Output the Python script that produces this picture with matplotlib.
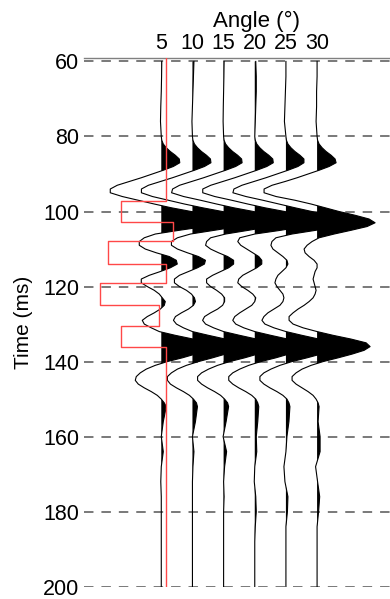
import numpy as np
import matplotlib
matplotlib.use("Agg")
from matplotlib import pyplot as plt

plt.rcParams['font.family'] = ['Liberation Sans', 'DejaVu Sans']

# incidence angles (one wiggle trace each)
angles = [5, 10, 15, 20, 25, 30]

# time samples (ms): coarse above/below the reflections, 1 ms through them
times = np.concatenate([np.arange(60, 80, 4), np.arange(80, 153, 1), np.arange(156, 201, 4)])

# trace amplitudes (same order as times)
trace_05 = [0.5, 0.3, 0, -0.5, -0.8,
            0, 0.5, 2, 5, 9, 14, 18, 18.5, 12, 2,
            -9, -20, -32, -44, -51, -51, -39, -23, -7, 10,
            30, 47, 56, 57, 44, 18, -6, -17, -22, -22,
            -16, -5, 8, 15, 16, 9, -1, -12, -20, -20,
            -14, -7, -2, 1, 4, 3, -1, -7, -14, -19,
            -17, -10, -2, 14, 32, 47, 52, 46, 34, 21,
            6, -6, -15, -21, -25, -26, -23, -17, -10, -4,
            0, 3, 5,
            2, 0, 2, 0, -0.5, 0, 0, 0, 0, 0, 0, 0]
trace_10 = [1.5, 1, 0.5, 0, -0.5,
            0, 0.5, 2, 5, 9, 14, 18, 18.5, 12, 2,
            -9, -20, -32, -44, -51, -51, -40, -24, -8, 10,
            30, 47, 56, 57, 46, 22, -2, -15, -21, -21,
            -15, -5, 6, 13, 12, 5, -4, -13, -18, -18,
            -13, -6, -1, 2, 3, 1, -4, -11, -17, -19,
            -16, -9, 0, 16, 33, 47, 51, 45, 33, 20,
            6, -6, -15, -21, -25, -25, -22, -16, -9, -3,
            1, 4, 5,
            3, 0, 1.5, 0.5, 0, 0, 0, 0, 0, 0, 0, 0]
trace_15 = [0.5, 0.3, 0, -0.3, -0.5,
            0, 0.5, 2, 5, 9, 14, 18, 18.5, 12, 2,
            -9, -20, -32, -44, -51, -52, -40, -23, -7, 10,
            30, 47, 56, 57, 47, 25, 2, -13, -17, -18,
            -13, -5, 4, 10, 10, 5, -3, -11, -17, -17,
            -13, -7, -2, 1, 1, -1, -6, -13, -19, -21,
            -18, -10, 0, 16, 33, 47, 52, 46, 34, 21,
            6, -6, -15, -22, -26, -26, -22, -16, -9, -3,
            1, 4, 5,
            2.5, -0.5, 3, 1, 0, 0.5, 0, 0, 0, 0, 0, 0]
trace_20 = [1, 1.5, 1.5, 1, 0.5,
            0, 0.5, 2, 5, 9, 14, 18, 18.5, 12, 2,
            -9, -20, -32, -44, -52, -52, -40, -23, -7, 10,
            30, 47, 56, 57, 48, 26, 0, -15, -17, -14,
            -8, -2, 4, 7, 7, 2, -5, -12, -16, -17,
            -13, -7, -2, 1, 0, -3, -9, -15, -20, -22,
            -19, -11, 0, 16, 33, 47, 52, 46, 34, 21,
            6, -6, -15, -22, -26, -26, -22, -16, -9, -3,
            1, 3, 4,
            3, 1.5, 2, 0, -0.5, 1, 1.5, 0.5, 0, 0, 0, 0]
trace_25 = [0, 0, -0.5, -1, -1.5,
            0, 0.5, 2, 5, 9, 14, 18, 18, 12, 2,
            -9, -20, -32, -44, -52, -53, -40, -23, -7, 9,
            26, 43, 55, 58, 49, 30, 6, -10, -14, -15,
            -13, -8, -3, 1, 2, 0, -4, -8, -10, -11,
            -9, -6, -3, -2, -3, -6, -12, -18, -22, -24,
            -21, -12, 0, 16, 33, 48, 52, 47, 35, 21,
            6, -6, -15, -22, -26, -26, -22, -16, -9, -3,
            1, 3, 4,
            3, 1, 0, -2, -1, 2, 1.5, 0, 0, 0, 0, 0]
trace_30 = [0, 0, -0.5, -0.5, -1,
            0, 0.5, 2, 5, 9, 14, 18, 19, 12, 2,
            -9, -20, -32, -45, -53, -53, -41, -22, -6, 8,
            22, 38, 52, 58, 50, 34, 17, 2, -5, -10,
            -13, -12, -8, -3, 0, 0, -2, -3, -4, -3,
            -2, -1, -2, -4, -8, -13, -19, -24, -28, -28,
            -24, -14, 0, 16, 34, 49, 53, 47, 35, 21,
            6, -6, -15, -21, -25, -25, -21, -15, -9, -4,
            -1, 1, 2,
            1, 3, 3, -1.5, 0.5, 2.6, 1.5, 0, 0, 0, 0, 0]
traces = [trace_05, trace_10, trace_15, trace_20, trace_25, trace_30]

# red blocky log: layer tops (ms) and offsets
red_tops = [59, 97.1, 102.8, 107.9, 114.0, 119.1, 125.0, 130.4, 136.0, 200]
red_vals = [0, -45, 7.6, -58, 0, -66, -6.4, -45, 0]
red_base = 5.7

gain = 1 / 6.23  # amplitude units -> degrees on the x axis

fig = plt.figure(figsize=(3.9, 5.99), dpi=100)
ax = fig.add_axes([84 / 390, 12.3 / 599, 306 / 390, 529 / 599])

for ang, tr in zip(angles, traces):
    x = ang + np.array(tr) * gain
    ax.fill_betweenx(times, ang, x, where=np.array(tr) > 0, interpolate=True,
                     color='black', lw=0, zorder=2)
    ax.plot(x, times, color='black', lw=0.8, zorder=3)

# red step curve
ry = np.repeat(red_tops, 2)[1:-1]
rx = red_base + np.repeat(red_vals, 2) * gain
ax.plot(rx, ry, color='#ff4848', lw=1.0, zorder=4)

ax.set_ylim(200, 59)
ax.set_xlim(-7.4, 41.7)
ax.set_yticks(np.arange(60, 201, 20))
ax.set_xticks(angles)
ax.xaxis.tick_top()
ax.tick_params(axis='both', length=0, labelsize=15.5)
ax.tick_params(axis='y', pad=3.5)
ax.tick_params(axis='x', pad=2.5)
ax.yaxis.grid(True, color='#555555', lw=1.1, linestyle=(0, (6.2, 5.2)), zorder=1)
ax.set_axisbelow(True)

for side in ['left', 'right', 'bottom']:
    ax.spines[side].set_visible(False)
ax.spines['top'].set_color('#808080')
ax.spines['top'].set_linewidth(1.0)

ax.set_ylabel("Time (ms)", fontsize=15, labelpad=7)
ax.text(0.565, 1.0 + 31 / 529, "Angle (°)", transform=ax.transAxes,
        ha='center', va='baseline', fontsize=16)

fig.savefig("out.png", dpi=100)
